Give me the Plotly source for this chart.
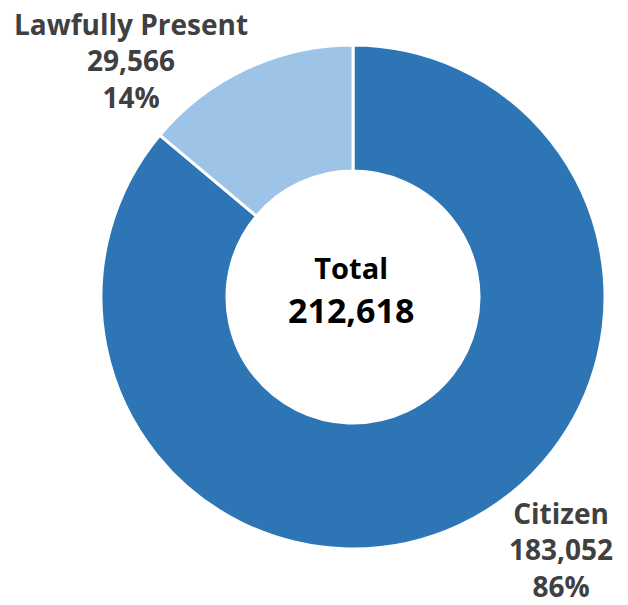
import plotly.graph_objects as go

labels = ["Citizen", "Lawfully Present"]
values = [183052, 29566]
percents = ["86%", "14%"]
colors = ["#2E75B6", "#9DC3E6"]
total_label = "Total"
total_value = "212,618"

fig = go.Figure(go.Pie(
    labels=labels, values=values, hole=0.5, sort=False,
    direction="clockwise", rotation=0,
    marker=dict(colors=colors, line=dict(color="white", width=3)),
    textinfo="none", hoverinfo="label+value+percent",
    domain=dict(x=[(353 - 252) / 628, (353 + 252) / 628],
                y=[(308 - 252) / 605, (308 + 252) / 605]),
    showlegend=False,
))

def font(size, color="#404040"):
    return dict(family="Open Sans", size=size, color=color)

def add_block(text, x, y, f):
    fig.add_annotation(text=text, x=x / 628, y=1 - y / 605,
                       xref="paper", yref="paper", showarrow=False,
                       font=f, xanchor="center", yanchor="middle",
                       align="center", borderpad=0)

add_block(f"<b>{labels[1]}<br>{values[1]:,}<br>{percents[1]}</b>", 131, 61, font(28))
add_block(f"<b>{labels[0]}<br>{values[0]:,}<br>{percents[0]}</b>", 561, 549, font(28))
add_block(f"<b><span style='font-size:29px'>{total_label}</span><br>{total_value}</b>",
          351, 290, font(34, "#000000"))

fig.update_layout(width=628, height=605, margin=dict(l=0, r=0, t=0, b=0),
                  paper_bgcolor="white", plot_bgcolor="white")
fig.write_html("out.html", config={"displayModeBar": False},
               post_script="document.body.style.margin='0';document.body.style.overflow='hidden';")
